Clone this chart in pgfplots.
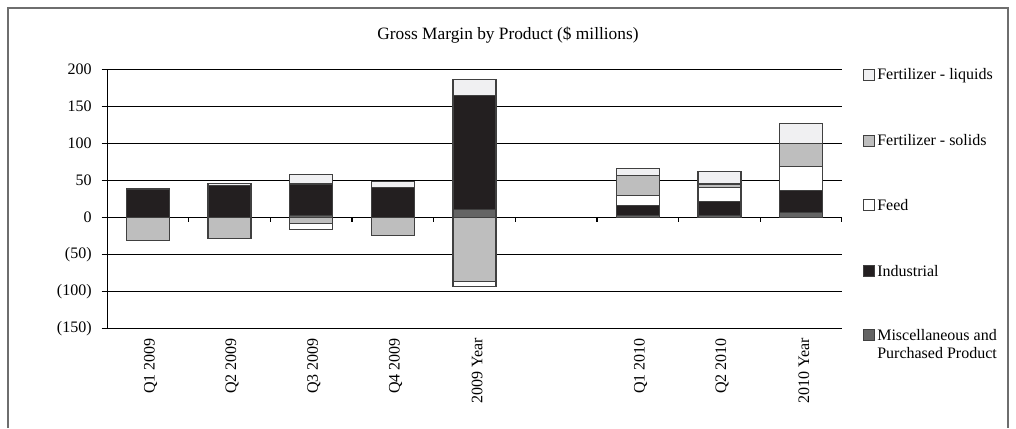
\documentclass[border=0pt]{standalone}
\usepackage{fontspec}
\setmainfont{Liberation Serif}
\usepackage{pgfplots}
\pgfplotsset{compat=1.18}
\definecolor{cMisc}{HTML}{646464}
\definecolor{cInd}{HTML}{231F20}
\definecolor{cFeed}{HTML}{FFFFFF}
\definecolor{cSol}{HTML}{BEBEBE}
\definecolor{cLiq}{HTML}{F0F0F2}
\definecolor{cEdge}{HTML}{404040}
\definecolor{cFrame}{HTML}{6E6E6E}
\pgfplotsset{
  base/.style={
    scale only axis, width=551.25pt, height=194.25pt,
    at={(80.25pt,74.775pt)}, anchor=south west,
    xmin=-0.5, xmax=8.5, ymin=-150, ymax=200,
    ybar stacked, bar width=32.25pt,
  },
  bstyle/.style={draw=cEdge, line width=0.8pt, fill=#1},
}
\begin{document}
\begin{tikzpicture}[x=0.75pt,y=0.75pt]
\path[use as bounding box] (0,0) rectangle (1016,428);
\draw[cFrame, line width=1.1pt] (8,0) -- (8,420) -- (1008,420) -- (1008,0);
\node[font=\fontsize{13}{15}\selectfont] at (508,393) {Gross Margin by Product (\$ millions)};
% positive parts
\begin{axis}[base,
  axis lines*=left,
  axis line style={black, line width=0.6pt},
  ytick={-150,-100,...,200},
  yticklabels={(150),(100),(50),0,50,100,150,200},
  ymajorgrids, grid style={black, line width=0.6pt},
  tick align=outside, major tick length=4pt,
  y tick style={black, line width=0.6pt},
  xtick={0,1,2,3,4,6,7,8},
  xticklabels={Q1 2009,Q2 2009,Q3 2009,Q4 2009,2009 Year,Q1 2010,Q2 2010,2010 Year},
  x tick style={draw=none},
  x tick label style={rotate=90, anchor=east, font=\fontsize{12}{14}\selectfont, yshift=-2pt},
  y tick label style={font=\fontsize{12}{14}\selectfont, xshift=-4pt},
  /pgf/number format/assume math mode=true,
]
\addplot[bstyle=cMisc] coordinates {(0,0) (1,0) (2,3) (3,0) (4,11) (6,3) (7,3) (8,7)};
\addplot[bstyle=cInd] coordinates {(0,37) (1,43) (2,42) (3,40) (4,154) (6,13.5) (7,18) (8,29)};
\addplot[bstyle=cFeed] coordinates {(0,0) (1,0) (2,0) (3,0) (4,0) (6,13.5) (7,19) (8,33)};
\addplot[bstyle=cSol] coordinates {(0,0) (1,0) (2,0) (3,0) (4,0) (6,26) (7,5) (8,31)};
\addplot[bstyle=cLiq] coordinates {(0,2.5) (1,2.5) (2,13) (3,9) (4,21) (6,10) (7,17) (8,27)};
\pgfplotsinvokeforeach{0.5,1.5,2.5,3.5,4.5,5.5,6.5,7.5,8.5}{
  \draw[black, line width=0.8pt] (axis cs:#1,0) -- (axis cs:#1,-6.5);
}
\end{axis}
% negative parts
\begin{axis}[base, hide axis]
\addplot[bstyle=cSol] coordinates {(0,-31.5) (1,-28.5) (2,-8) (3,-25) (4,-87) (6,0) (7,0) (8,0)};
\addplot[bstyle=cFeed] coordinates {(0,0) (1,0) (2,-8) (3,0) (4,-6.5) (6,0) (7,0) (8,0)};
\end{axis}
% legend
\begin{scope}[font=\fontsize{12}{13.5}\selectfont]
\draw[cEdge, line width=0.6pt, fill=cLiq] (863,347.2) rectangle (874,358.2);
\node[anchor=west, inner sep=0] at (877,352.7) {Fertilizer - liquids};
\draw[cEdge, line width=0.6pt, fill=cSol] (863,282) rectangle (874,293);
\node[anchor=west, inner sep=0] at (877,287.5) {Fertilizer - solids};
\draw[cEdge, line width=0.6pt, fill=cFeed] (863,217.8) rectangle (874,228.8);
\node[anchor=west, inner sep=0] at (877,223.3) {Feed};
\draw[cEdge, line width=0.6pt, fill=cInd] (863,151.2) rectangle (874,162.2);
\node[anchor=west, inner sep=0] at (877,156.7) {Industrial};
\draw[cEdge, line width=0.6pt, fill=cMisc] (863,87.2) rectangle (874,98.2);
\node[anchor=north west, inner sep=0, align=left] at (877,99) {Miscellaneous and\\Purchased Product};
\end{scope}
\end{tikzpicture}
\end{document}
